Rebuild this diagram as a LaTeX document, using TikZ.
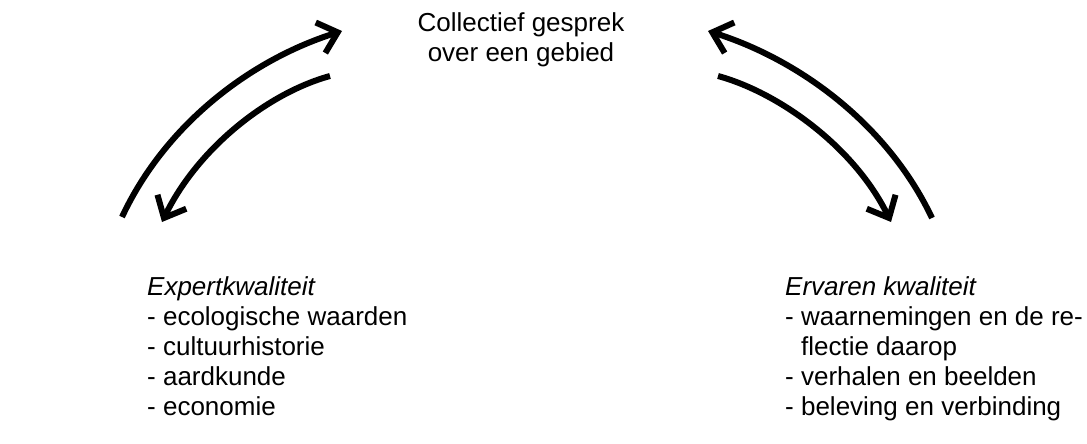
\documentclass[tikz,border=0pt]{standalone}
\usepackage{fontspec}
\setmainfont{Liberation Sans}
\usetikzlibrary{arrows.meta}
\begin{document}
\begin{tikzpicture}[x=1pt,y=-1pt,
  txt/.style={inner sep=0pt,font=\fontsize{26}{30}\selectfont},
  blk/.style={txt,align=left,anchor=north west},
  arr/.style={line width=6pt,-{Straight Barb[length=18pt,width=32pt]}}]
\useasboundingbox (0,0) rectangle (1087,444);
\node[txt,align=center,anchor=north] (title) at (521,12) {Collectief gesprek\\over een gebied};
\node[blk] (left) at (147,276) {\textit{Expertkwaliteit}\\- ecologische waarden\\- cultuurhistorie\\- aardkunde\\- economie};
\node[blk] (right) at (785,276) {\textit{Ervaren kwaliteit}\\- waarnemingen en de re-\\\hphantom{- }flectie daarop\\- verhalen en beelden\\- beleving en verbinding};
\coordinate (lo1) at (122,217);
\coordinate (lo2) at (342,31);
\coordinate (li1) at (330,76);
\coordinate (li2) at (162,222);
\coordinate (ro1) at (932,218);
\coordinate (ro2) at (708,31);
\coordinate (ri1) at (718,76);
\coordinate (ri2) at (891,222);
\draw[arr] (lo1) .. controls (165,125) and (250,60) .. (lo2);
\draw[arr] (li1) .. controls (268,93) and (198,148) .. (li2);
\draw[arr] (ro1) .. controls (888,125) and (800,60) .. (ro2);
\draw[arr] (ri1) .. controls (780,93) and (855,148) .. (ri2);
\end{tikzpicture}
\end{document}
